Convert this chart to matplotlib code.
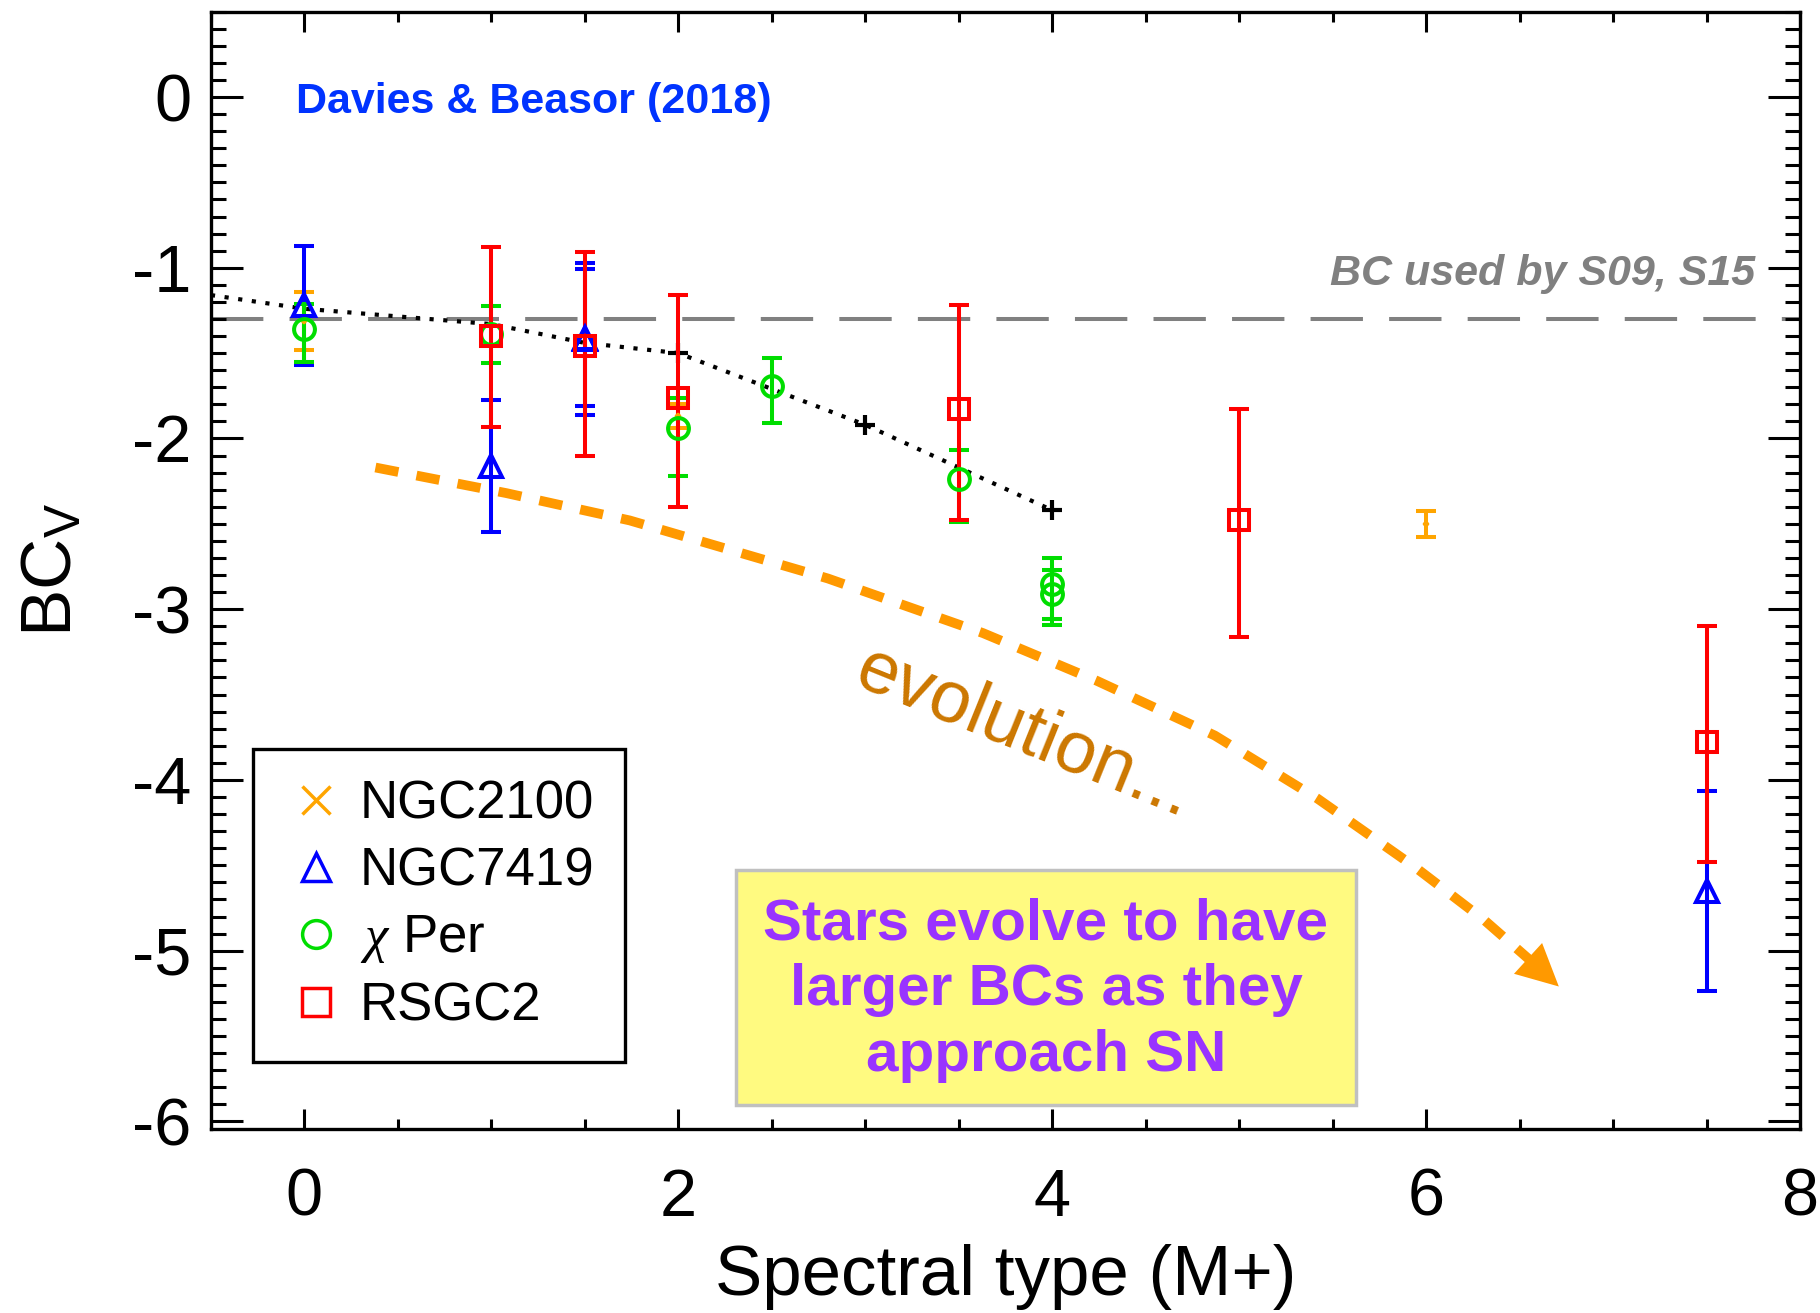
import matplotlib
matplotlib.use("Agg")
import matplotlib.pyplot as plt
from matplotlib.lines import Line2D
from matplotlib.patches import Rectangle
from matplotlib.ticker import MultipleLocator

plt.rcParams['font.family'] = ['Liberation Sans', 'DejaVu Sans']
plt.rcParams['axes.unicode_minus'] = False
plt.rcParams['mathtext.fontset'] = 'custom'
plt.rcParams['mathtext.rm'] = 'Liberation Sans'
plt.rcParams['mathtext.it'] = 'Liberation Serif:italic'

# NGC2100 (orange)
ngc2100_x = [0, 2, 6]
ngc2100_y = [-1.31, -1.87, -2.50]
ngc2100_err = [0.17, 0.07, 0.075]

# NGC7419 (blue)
ngc7419_x = [0, 1, 1.5, 1.5, 7.5]
ngc7419_y = [-1.22, -2.16, -1.42, -1.41, -4.65]
ngc7419_err = [0.35, 0.385, 0.445, 0.40, 0.585]

# chi Per (green), asymmetric errors
chiper_x = [0, 1, 2, 2.5, 3.5, 4, 4]
chiper_y = [-1.36, -1.39, -1.94, -1.69, -2.24, -2.85, -2.91]
chiper_lo = [0.19, 0.165, 0.28, 0.22, 0.25, 0.21, 0.18]
chiper_hi = [0.15, 0.165, 0.18, 0.16, 0.17, 0.15, 0.14]

# RSGC2 (red), asymmetric errors
rsgc2_x = [1, 1.5, 2, 3.5, 5, 7.5]
rsgc2_y = [-1.40, -1.46, -1.76, -1.83, -2.48, -3.78]
rsgc2_lo = [0.53, 0.64, 0.64, 0.65, 0.68, 0.70]
rsgc2_hi = [0.52, 0.55, 0.60, 0.61, 0.65, 0.68]

# BC vs spectral type scale, + marks at M2, M3, M4
scale_x = [-0.5, 0, 1, 1.5, 2, 3, 4]
scale_y = [-1.16, -1.24, -1.33, -1.44, -1.50, -1.92, -2.42]

bc_s09 = -1.3

# evolution arrow path (last point = arrow tip)
arrow_x = [0.38, 1.08, 1.74, 2.80, 3.63, 4.24, 4.87, 5.42, 5.94, 6.31, 6.55, 6.71]
arrow_y = [-2.17, -2.32, -2.48, -2.82, -3.14, -3.42, -3.74, -4.11, -4.51, -4.82, -5.05, -5.21]

ORANGE = '#FFA500'
BLUE = '#0000FF'
GREEN = '#00DD00'
RED = '#FF0000'

fig = plt.figure(figsize=(18.2, 13.13), dpi=100)
ax = fig.add_axes([0.1159, 0.1401, 0.8731, 0.8510])

ax.axhline(bc_s09, color='#808080', lw=2.9, ls=(0, (13, 6.5)), zorder=1)
ax.text(0.9717, 0.7654, 'BC used by S09, S15', transform=ax.transAxes,
        ha='right', va='center', fontsize=31, fontweight='bold',
        fontstyle='italic', color='#808080')

ax.plot(scale_x, scale_y, color='k', lw=3, ls=(0, (1, 2.3)),
        marker='+', ms=15, mew=3, markevery=[4, 5, 6], zorder=2)

ax.plot(arrow_x[:-1], arrow_y[:-1], color='#FF9900', lw=7,
        ls=(0, (2.4, 1.9)), zorder=2)
ax.annotate('', xy=(arrow_x[-1], arrow_y[-1]), xytext=(arrow_x[-2], arrow_y[-2]),
            arrowprops=dict(arrowstyle='-|>,head_length=1.5,head_width=0.75',
                            mutation_scale=20, color='#FF9900', lw=0,
                            shrinkA=0, shrinkB=0))

eb = dict(elinewidth=2.9, capsize=7.5, capthick=2.9, mew=2.9,
          mfc='none', ls='none', zorder=3)
ax.errorbar(ngc2100_x, ngc2100_y, yerr=ngc2100_err, marker='x', ms=3,
            color=ORANGE, **eb)
ax.errorbar(ngc7419_x, ngc7419_y, yerr=ngc7419_err, marker='^', ms=16,
            color=BLUE, **eb)
ax.errorbar(chiper_x, chiper_y, yerr=[chiper_lo, chiper_hi], marker='o',
            ms=15, color=GREEN, **eb)
ax.errorbar(rsgc2_x, rsgc2_y, yerr=[rsgc2_lo, rsgc2_hi], marker='s',
            ms=15, color=RED, **eb)

ax.text(0.0536, 0.919, 'Davies & Beasor (2018)', transform=ax.transAxes,
        ha='left', va='center', fontsize=31, fontweight='bold', color='#0033FF')

ax.text(0.512, 0.3545, 'evolution...', transform=ax.transAxes, ha='center',
        va='center', rotation=-22, fontsize=53, color='#CC7700',
        family=['Liberation Sans', 'DejaVu Sans'])

ax.add_patch(Rectangle((0.3304, 0.0215), 0.3902, 0.2104, transform=ax.transAxes,
                       fc='#FFFA80', ec='#C0C0C0', lw=2.5, zorder=4))
ax.text(0.5255, 0.1244, 'Stars evolve to have\nlarger BCs as they\napproach SN',
        transform=ax.transAxes, ha='center', va='center', ma='center',
        fontsize=42, fontweight='bold', color='#9933FF', linespacing=1.28,
        zorder=5)

handles = [
    Line2D([], [], ls='none', marker='x', ms=20, mew=2.5, color=ORANGE),
    Line2D([], [], ls='none', marker='^', ms=20, mew=2.5, mfc='none', color=BLUE),
    Line2D([], [], ls='none', marker='o', ms=20, mew=2.5, mfc='none', color=GREEN),
    Line2D([], [], ls='none', marker='s', ms=20, mew=2.5, mfc='none', color=RED),
]
labels = ['NGC2100', 'NGC7419', r'$\chi$ Per', 'RSGC2']
leg = ax.legend(handles, labels, loc='lower left', bbox_to_anchor=(0.0264, 0.06),
                borderaxespad=0, fontsize=38, frameon=True, fancybox=False,
                edgecolor='k', framealpha=1, borderpad=0.57, labelspacing=0.32,
                handlelength=1.26, handletextpad=0.2)
leg.get_frame().set_linewidth(2.4)
leg.set_zorder(6)

ax.set_xlim(-0.5, 8)
ax.set_ylim(-6.045, 0.5)
ax.xaxis.set_major_locator(MultipleLocator(2))
ax.xaxis.set_minor_locator(MultipleLocator(0.5))
ax.yaxis.set_major_locator(MultipleLocator(1))
ax.yaxis.set_minor_locator(MultipleLocator(0.1))

ax.tick_params(which='both', direction='in', top=True, right=True, width=2.2,
               labelsize=48)
ax.tick_params(axis='x', which='major', length=14.4, pad=28)
ax.tick_params(axis='x', which='minor', length=7)
ax.tick_params(axis='y', which='major', length=23, pad=14)
ax.tick_params(axis='y', which='minor', length=11)
for sp in ax.spines.values():
    sp.set_linewidth(2.4)

ax.set_xlabel('Spectral type (M+)', fontsize=51, labelpad=10)
ax.set_ylabel(r'BC$_{\rm V}$', fontsize=51, labelpad=33)

fig.savefig('out.png', dpi=100)
